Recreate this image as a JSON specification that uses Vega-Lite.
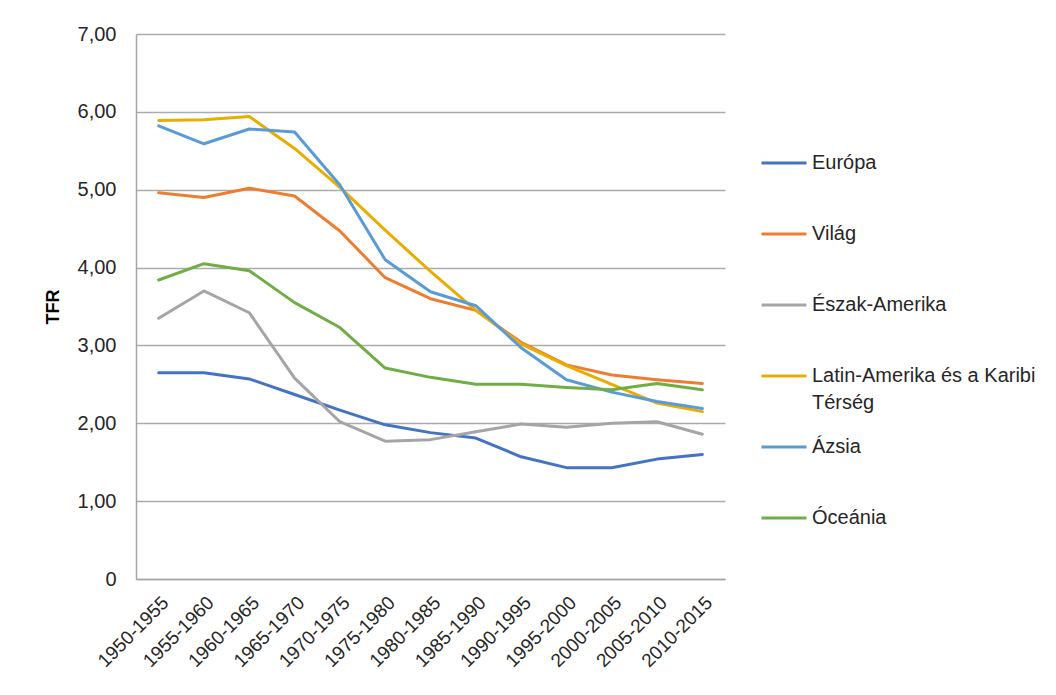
{
  "$schema": "https://vega.github.io/schema/vega-lite/v6.json",
  "width": 589,
  "height": 545,
  "autosize": {"type": "none"},
  "padding": {"left": 136, "top": 34, "right": 331, "bottom": 116},
  "background": "white",
  "data": {
    "values": [
      {"period": "1950-1955", "region": "Európa", "tfr": 2.65},
      {"period": "1955-1960", "region": "Európa", "tfr": 2.65},
      {"period": "1960-1965", "region": "Európa", "tfr": 2.57},
      {"period": "1965-1970", "region": "Európa", "tfr": 2.37},
      {"period": "1970-1975", "region": "Európa", "tfr": 2.17},
      {"period": "1975-1980", "region": "Európa", "tfr": 1.98},
      {"period": "1980-1985", "region": "Európa", "tfr": 1.88},
      {"period": "1985-1990", "region": "Európa", "tfr": 1.81},
      {"period": "1990-1995", "region": "Európa", "tfr": 1.57},
      {"period": "1995-2000", "region": "Európa", "tfr": 1.43},
      {"period": "2000-2005", "region": "Európa", "tfr": 1.43},
      {"period": "2005-2010", "region": "Európa", "tfr": 1.54},
      {"period": "2010-2015", "region": "Európa", "tfr": 1.60},
      {"period": "1950-1955", "region": "Világ", "tfr": 4.96},
      {"period": "1955-1960", "region": "Világ", "tfr": 4.90},
      {"period": "1960-1965", "region": "Világ", "tfr": 5.02},
      {"period": "1965-1970", "region": "Világ", "tfr": 4.92},
      {"period": "1970-1975", "region": "Világ", "tfr": 4.47},
      {"period": "1975-1980", "region": "Világ", "tfr": 3.87},
      {"period": "1980-1985", "region": "Világ", "tfr": 3.60},
      {"period": "1985-1990", "region": "Világ", "tfr": 3.45},
      {"period": "1990-1995", "region": "Világ", "tfr": 3.04},
      {"period": "1995-2000", "region": "Világ", "tfr": 2.75},
      {"period": "2000-2005", "region": "Világ", "tfr": 2.62},
      {"period": "2005-2010", "region": "Világ", "tfr": 2.56},
      {"period": "2010-2015", "region": "Világ", "tfr": 2.51},
      {"period": "1950-1955", "region": "Észak-Amerika", "tfr": 3.35},
      {"period": "1955-1960", "region": "Észak-Amerika", "tfr": 3.70},
      {"period": "1960-1965", "region": "Észak-Amerika", "tfr": 3.42},
      {"period": "1965-1970", "region": "Észak-Amerika", "tfr": 2.58},
      {"period": "1970-1975", "region": "Észak-Amerika", "tfr": 2.02},
      {"period": "1975-1980", "region": "Észak-Amerika", "tfr": 1.77},
      {"period": "1980-1985", "region": "Észak-Amerika", "tfr": 1.79},
      {"period": "1985-1990", "region": "Észak-Amerika", "tfr": 1.89},
      {"period": "1990-1995", "region": "Észak-Amerika", "tfr": 1.99},
      {"period": "1995-2000", "region": "Észak-Amerika", "tfr": 1.95},
      {"period": "2000-2005", "region": "Észak-Amerika", "tfr": 2.00},
      {"period": "2005-2010", "region": "Észak-Amerika", "tfr": 2.02},
      {"period": "2010-2015", "region": "Észak-Amerika", "tfr": 1.86},
      {"period": "1950-1955", "region": "Latin-Amerika és a Karibi Térség", "tfr": 5.89},
      {"period": "1955-1960", "region": "Latin-Amerika és a Karibi Térség", "tfr": 5.90},
      {"period": "1960-1965", "region": "Latin-Amerika és a Karibi Térség", "tfr": 5.94},
      {"period": "1965-1970", "region": "Latin-Amerika és a Karibi Térség", "tfr": 5.53},
      {"period": "1970-1975", "region": "Latin-Amerika és a Karibi Térség", "tfr": 5.03},
      {"period": "1975-1980", "region": "Latin-Amerika és a Karibi Térség", "tfr": 4.48},
      {"period": "1980-1985", "region": "Latin-Amerika és a Karibi Térség", "tfr": 3.95},
      {"period": "1985-1990", "region": "Latin-Amerika és a Karibi Térség", "tfr": 3.45},
      {"period": "1990-1995", "region": "Latin-Amerika és a Karibi Térség", "tfr": 3.02},
      {"period": "1995-2000", "region": "Latin-Amerika és a Karibi Térség", "tfr": 2.74},
      {"period": "2000-2005", "region": "Latin-Amerika és a Karibi Térség", "tfr": 2.50},
      {"period": "2005-2010", "region": "Latin-Amerika és a Karibi Térség", "tfr": 2.26},
      {"period": "2010-2015", "region": "Latin-Amerika és a Karibi Térség", "tfr": 2.15},
      {"period": "1950-1955", "region": "Ázsia", "tfr": 5.82},
      {"period": "1955-1960", "region": "Ázsia", "tfr": 5.59},
      {"period": "1960-1965", "region": "Ázsia", "tfr": 5.78},
      {"period": "1965-1970", "region": "Ázsia", "tfr": 5.74},
      {"period": "1970-1975", "region": "Ázsia", "tfr": 5.06},
      {"period": "1975-1980", "region": "Ázsia", "tfr": 4.10},
      {"period": "1980-1985", "region": "Ázsia", "tfr": 3.69},
      {"period": "1985-1990", "region": "Ázsia", "tfr": 3.51},
      {"period": "1990-1995", "region": "Ázsia", "tfr": 2.97},
      {"period": "1995-2000", "region": "Ázsia", "tfr": 2.56},
      {"period": "2000-2005", "region": "Ázsia", "tfr": 2.40},
      {"period": "2005-2010", "region": "Ázsia", "tfr": 2.28},
      {"period": "2010-2015", "region": "Ázsia", "tfr": 2.19},
      {"period": "1950-1955", "region": "Óceánia", "tfr": 3.84},
      {"period": "1955-1960", "region": "Óceánia", "tfr": 4.05},
      {"period": "1960-1965", "region": "Óceánia", "tfr": 3.96},
      {"period": "1965-1970", "region": "Óceánia", "tfr": 3.55},
      {"period": "1970-1975", "region": "Óceánia", "tfr": 3.23},
      {"period": "1975-1980", "region": "Óceánia", "tfr": 2.71},
      {"period": "1980-1985", "region": "Óceánia", "tfr": 2.59},
      {"period": "1985-1990", "region": "Óceánia", "tfr": 2.50},
      {"period": "1990-1995", "region": "Óceánia", "tfr": 2.50},
      {"period": "1995-2000", "region": "Óceánia", "tfr": 2.46},
      {"period": "2000-2005", "region": "Óceánia", "tfr": 2.43},
      {"period": "2005-2010", "region": "Óceánia", "tfr": 2.51},
      {"period": "2010-2015", "region": "Óceánia", "tfr": 2.43}
    ]
  },
  "mark": {"type": "line", "strokeWidth": 3, "strokeCap": "round", "strokeJoin": "round"},
  "encoding": {
    "x": {
      "field": "period",
      "type": "ordinal",
      "sort": null,
      "scale": {"type": "point", "padding": 0.5},
      "axis": {
        "title": null,
        "labelAngle": -45,
        "labelAlign": "right",
        "labelBaseline": "top",
        "labelPadding": 14,
        "labelFontSize": 19,
        "ticks": false,
        "grid": false,
        "domainColor": "#A6A6A6",
        "domainWidth": 1.5
      }
    },
    "y": {
      "field": "tfr",
      "type": "quantitative",
      "scale": {"domain": [0, 7], "nice": false},
      "axis": {
        "title": "TFR",
        "titleFontSize": 18,
        "titleFontWeight": "bold",
        "titlePadding": 15,
        "values": [0, 1, 2, 3, 4, 5, 6, 7],
        "labelExpr": "datum.value == 0 ? '0' : replace(format(datum.value, '.2f'), '.', ',')",
        "labelFontSize": 20,
        "labelPadding": 20,
        "ticks": false,
        "grid": true,
        "gridColor": "#ABABAB",
        "gridWidth": 1.3,
        "domainColor": "#A6A6A6",
        "domainWidth": 1.5
      }
    },
    "color": {
      "field": "region",
      "type": "nominal",
      "sort": ["Európa", "Világ", "Észak-Amerika", "Latin-Amerika és a Karibi Térség", "Ázsia", "Óceánia"],
      "scale": {
        "domain": ["Európa", "Világ", "Észak-Amerika", "Latin-Amerika és a Karibi Térség", "Ázsia", "Óceánia"],
        "range": ["#4472C4", "#ED7D31", "#A5A5A5", "#E8AD00", "#5B9BD5", "#70AD47"]
      },
      "legend": {
        "title": null,
        "orient": "none",
        "legendX": 624,
        "legendY": 105,
        "symbolType": "stroke",
        "symbolSize": 2025,
        "symbolStrokeWidth": 3,
        "labelFontSize": 20,
        "labelOffset": 4,
        "labelLimit": 400,
        "gridAlign": "all",
        "rowPadding": 10,
        "labelExpr": "datum.label == 'Latin-Amerika és a Karibi Térség' ? ['Latin-Amerika és a Karibi', 'Térség'] : datum.label"
      }
    }
  },
  "config": {
    "font": "Liberation Sans",
    "view": {"stroke": null},
    "axis": {"labelColor": "#262626", "titleColor": "#000000"},
    "legend": {"labelColor": "#262626"},
    "style": {"guide-label": {"lineHeight": 27}}
  }
}
